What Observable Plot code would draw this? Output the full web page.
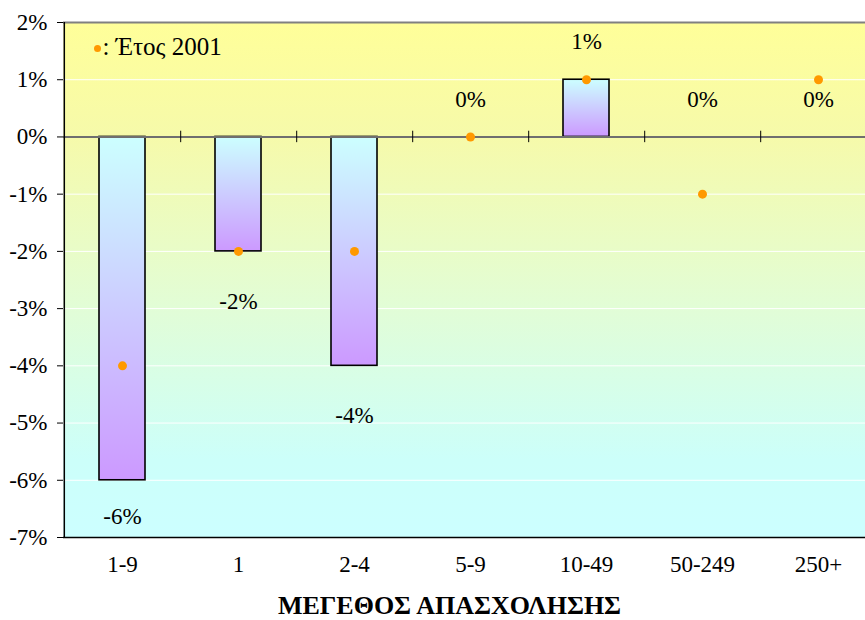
<!DOCTYPE html>
<html><head><meta charset="utf-8">
<script src="https://cdn.jsdelivr.net/npm/d3@7"></script>
<script src="https://cdn.jsdelivr.net/npm/@observablehq/plot@0.6"></script>
<style>
body{margin:0;background:#fff;overflow:hidden}
#chart svg, #chart svg text{font-family:"Liberation Serif","Times New Roman",serif !important}
</style>
</head><body><div id="chart"></div>
<script>
const categories = ["1-9", "1", "2-4", "5-9", "10-49", "50-249", "250+"];
const values = [-6, -2, -4, 0, 1, 0, 0];
const values2001 = [-4, -2, -2, 0, 1, -1, 1];
const yTicks = [-7, -6, -5, -4, -3, -2, -1, 0, 1, 2];
const legendLabel = ": Έτος 2001";
const axisTitle = "ΜΕΓΕΘΟΣ ΑΠΑΣΧΟΛΗΣΗΣ";

const W = 865, H = 620, ML = 63, MR = 0, MT = 22, MB = 83;
const step = 116.4;
const half = step / 2;
const rows = categories.map((c, i) => ({cat: c, v: values[i], v01: values2001[i]}));

const plot = Plot.plot({
  width: W, height: H, marginLeft: ML, marginRight: MR, marginTop: MT, marginBottom: MB,
  style: {fontSize: "22px", color: "#000", background: "transparent", overflow: "hidden"},
  x: {domain: categories, range: [ML, ML + step * categories.length], paddingInner: 0.6, paddingOuter: 0.3, label: null},
  y: {domain: [-7, 2], label: null},
  marks: [
    Plot.frame({fill: "url(#bgGrad)", stroke: null}),
    Plot.gridY(yTicks, {stroke: "#fff", strokeOpacity: 1, strokeWidth: 1}),
    Plot.ruleY([2], {stroke: "#808080", strokeWidth: 2}),
    Plot.barY(rows, {x: "cat", y: "v", fill: "url(#barGrad)", stroke: "#000", strokeWidth: 1.6}),
    Plot.ruleY([0], {stroke: "#6f6f6f", strokeWidth: 2}),
    Plot.ruleX(categories.slice(0, -1), {x: d => d, dx: half, y1: -0.1, y2: 0.1, stroke: "#000", strokeWidth: 1}),
    Plot.ruleY([-7], {stroke: "#000", strokeWidth: 1.5}),
    Plot.ruleX([categories[0]], {x: d => d, dx: -half, y1: -7, y2: 2, stroke: "#000", strokeWidth: 1.5}),
    Plot.axisY({ticks: yTicks, tickFormat: d => d + "%", tickSize: 6, tickPadding: 10, stroke: "#000", label: null, fontSize: 23}),
    Plot.axisX({tickSize: 0, tickPadding: 18, label: null, fontSize: 23}),
    Plot.dot(rows, {x: "cat", y: "v01", r: 4.5, fill: "#FF9900", stroke: null}),
    Plot.text(rows, {x: "cat", y: d => d.v < 0 ? Math.max(d.v - 0.87, -6.63) : d.v + 0.66, text: d => d.v + "%", fontSize: 23}),
    Plot.dot([legendLabel], {frameAnchor: "top-left", dx: 34, dy: 26, r: 3.5, fill: "#FF9900", stroke: null}),
    Plot.text([legendLabel], {frameAnchor: "top-left", dx: 39, dy: 24, textAnchor: "start", lineAnchor: "middle", fontSize: 25}),
    Plot.text([axisTitle], {frameAnchor: "bottom", dx: -15, dy: 68, lineAnchor: "middle", fontWeight: "bold", fontSize: 26})
  ]
});

const ns = "http://www.w3.org/2000/svg";
const defs = document.createElementNS(ns, "defs");
defs.innerHTML = `
<linearGradient id="bgGrad" x1="0" y1="0" x2="0" y2="1">
  <stop offset="0" stop-color="#FFFF99"/>
  <stop offset="0.22" stop-color="#F6FAAA"/>
  <stop offset="0.55" stop-color="#E2FDD6"/>
  <stop offset="0.85" stop-color="#CCFFFA"/>
  <stop offset="1" stop-color="#CCFFFF"/>
</linearGradient>
<linearGradient id="barGrad" x1="0" y1="0" x2="0" y2="1">
  <stop offset="0" stop-color="#CCFFFF"/>
  <stop offset="0.5" stop-color="#CCCCFF"/>
  <stop offset="1" stop-color="#CC99FF"/>
</linearGradient>`;
plot.insertBefore(defs, plot.firstChild);
document.getElementById("chart").appendChild(plot);
</script>
</body></html>
